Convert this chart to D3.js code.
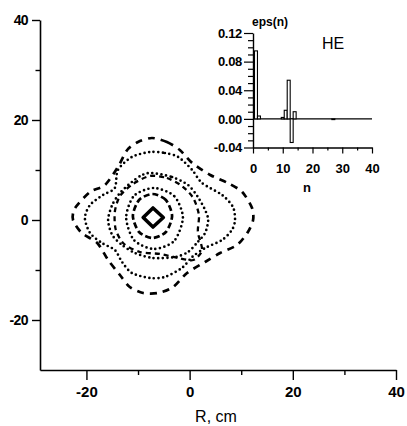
<!DOCTYPE html>
<html>
<head>
<meta charset="utf-8">
<script src="https://cdn.jsdelivr.net/npm/d3@7"></script>
<style>
  html, body { margin: 0; padding: 0; background: #fff; }
  svg { display: block; }
  text { font-family: "Liberation Sans", Arial, sans-serif; fill: #000; }
</style>
</head>
<body>
<svg id="chart" width="407" height="426"></svg>
<script>
// ---- Main plot: flux surface cross-sections (R, Z in cm) ----
const xTicksMain = [-20, 0, 20, 40];
const yTicksMain = [-20, 0, 20, 40];
const xMinorMain = [-10, 10, 30];
const yMinorMain = [-10, 10, 30];

// Outermost surface (dashed)
const surfaceA = [
  [-7.3, 16.4], [-4.4, 15.6], [-1.9, 14.0], [0.5, 11.4], [4.0, 9.0], [7.4, 7.4],
  [10.2, 5.6], [12.1, 2.4], [12.3, 0.0], [11.3, -2.4], [9.2, -5.0], [5.9, -6.6],
  [3.0, -8.4], [-0.5, -10.6], [-3.2, -13.4], [-6.1, -14.6], [-9.0, -14.6],
  [-11.6, -13.4], [-13.5, -11.0], [-15.8, -8.0], [-17.9, -4.6], [-20.9, -2.6],
  [-22.6, 0.0], [-22.2, 2.4], [-19.3, 5.6], [-16.4, 7.0], [-13.9, 10.6],
  [-12.1, 14.0], [-10.0, 15.6]
];
// Second surface (dotted)
const surfaceB = [
  [-7.7, 13.6], [-4.8, 13.4], [-2.2, 12.6], [0.5, 10.0], [2.4, 7.4], [6.3, 5.0],
  [8.4, 2.6], [8.8, 0.0], [8.2, -2.0], [6.3, -4.0], [3.0, -5.6], [0.5, -7.4],
  [-1.5, -9.6], [-4.8, -11.4], [-7.7, -11.6], [-11.2, -10.6], [-13.1, -8.4],
  [-14.5, -6.0], [-17.0, -4.6], [-19.3, -2.6], [-20.3, 0.4], [-19.3, 3.0],
  [-16.8, 5.0], [-14.5, 6.4], [-13.9, 10.0], [-11.2, 12.6]
];
// Middle surface (dotted)
const surfaceC = [
  [-7.3, 9.4], [-3.4, 8.6], [-0.3, 7.0], [1.6, 4.6], [3.0, 2.0], [3.6, 0.0],
  [3.0, -2.6], [1.4, -4.6], [-0.3, -6.4], [-2.8, -7.4], [-7.1, -7.6],
  [-10.6, -6.6], [-13.1, -5.0], [-15.0, -3.0], [-15.8, 0.0], [-15.0, 3.0],
  [-13.5, 5.4], [-11.2, 7.6], [-9.2, 9.0]
];
// Middle surface (dashed)
const surfaceD = [
  [-7.7, 8.8], [-4.4, 8.4], [-1.5, 6.8], [0.7, 4.4], [1.8, 1.0], [1.6, -2.4],
  [2.4, -6.0], [0.7, -8.0], [-2.2, -7.6], [-5.7, -6.8], [-9.6, -6.4],
  [-12.7, -4.8], [-14.3, -2.0], [-14.5, 1.6], [-13.5, 4.8], [-11.0, 7.2]
];
// Inner surfaces
const surfaceE = [
  [-1.3, 0.5], [-3.0, 4.8], [-7.0, 6.4], [-10.8, 4.8], [-12.3, 0.5],
  [-10.8, -4.0], [-7.0, -5.8], [-3.0, -4.2]
];
const surfaceF = [
  [-3.4, 0.8], [-4.6, 4.0], [-7.2, 5.2], [-9.8, 4.0], [-11.0, 0.8],
  [-9.8, -2.4], [-7.2, -3.6], [-4.6, -2.4]
];
const surfaceCore = [[-9.0, 0.5], [-7.1, 2.4], [-5.1, 0.5], [-7.1, -1.4]];

// ---- Inset: harmonic spectrum eps(n) ----
const harmonicN = [1, 2, 10, 11, 12, 13, 14, 27];
const epsValues = [0.095, 0.004, 0.002, 0.012, 0.054, -0.033, 0.010, -0.001];
const insetYTicks = [-0.04, 0.00, 0.04, 0.08, 0.12];
const insetXTicks = [0, 10, 20, 30, 40];

const svg = d3.select("#chart");

// number formats with a plain hyphen as the minus sign
const fmtInt = d => d3.format("d")(d).replace("\u2212", "-");
const fmt2 = d => d3.format(".2f")(d).replace("\u2212", "-");

// Scales
const x = d3.scaleLinear().domain([-29, 40]).range([40, 396]);
const y = d3.scaleLinear().domain([-30, 40]).range([370, 20]);

// Main axes
const gx = svg.append("g").attr("transform", `translate(0,${y(-30)})`)
  .call(d3.axisBottom(x).tickValues(xTicksMain).tickSize(10).tickSizeOuter(0)
    .tickPadding(6).tickFormat(fmtInt));
svg.append("g").attr("transform", `translate(0,${y(-30)})`)
  .call(d3.axisBottom(x).tickValues(xMinorMain).tickSize(5).tickSizeOuter(0).tickFormat(""))
  .select(".domain").remove();
const gy = svg.append("g").attr("transform", `translate(${x(-29)},0)`)
  .call(d3.axisLeft(y).tickValues(yTicksMain).tickSize(8).tickSizeOuter(0)
    .tickPadding(4).tickFormat(fmtInt));
svg.append("g").attr("transform", `translate(${x(-29)},0)`)
  .call(d3.axisLeft(y).tickValues(yMinorMain).tickSize(4.5).tickSizeOuter(0).tickFormat(""))
  .select(".domain").remove();

svg.selectAll(".domain").attr("stroke", "#000").attr("stroke-width", 1.6);
svg.selectAll(".tick line").attr("stroke", "#000").attr("stroke-width", 1.4);
gx.selectAll(".tick text").attr("font-size", 15).attr("font-weight", "bold")
  .attr("font-family", "Liberation Sans, Arial, sans-serif");
gy.selectAll(".tick text").attr("font-size", 14).attr("font-weight", "bold")
  .attr("font-family", "Liberation Sans, Arial, sans-serif").attr("letter-spacing", -0.6);

svg.append("text").attr("x", 216).attr("y", 422).attr("text-anchor", "middle")
  .attr("font-size", 16).text("R, cm");

// Contours
const line = d3.line().x(d => x(d[0])).y(d => y(d[1])).curve(d3.curveCardinalClosed.tension(0.2));
const dotted = { width: 2.7, dash: "0 4.6", cap: "round" };
const contours = [
  { data: surfaceA, width: 2.7, dash: "7 6", cap: "butt" },
  { data: surfaceB, ...dotted },
  { data: surfaceC, ...dotted },
  { data: surfaceD, width: 2.3, dash: "5 4", cap: "butt" },
  { data: surfaceE, ...dotted },
  { data: surfaceF, width: 2.7, dash: "6 3", cap: "butt" }
];
svg.append("g").selectAll("path").data(contours).join("path")
  .attr("d", d => line(d.data))
  .attr("fill", "none").attr("stroke", "#000")
  .attr("stroke-width", d => d.width)
  .attr("stroke-dasharray", d => d.dash)
  .attr("stroke-linecap", d => d.cap);
svg.append("path")
  .attr("d", d3.line().x(d => x(d[0])).y(d => y(d[1])).curve(d3.curveLinearClosed)(surfaceCore))
  .attr("fill", "none").attr("stroke", "#000").attr("stroke-width", 3.6)
  .attr("stroke-linejoin", "round");

// ---- Inset ----
const xi = d3.scaleLinear().domain([0, 40]).range([253, 372]);
const yi = d3.scaleLinear().domain([-0.04, 0.12]).range([147.5, 33]);
const inset = svg.append("g");

const giy = inset.append("g").attr("transform", `translate(${xi(0)},0)`)
  .call(d3.axisLeft(yi).tickValues(insetYTicks).tickSize(9).tickSizeOuter(0)
    .tickPadding(2).tickFormat(fmt2));
inset.append("g").attr("transform", `translate(${xi(0)},0)`)
  .call(d3.axisLeft(yi).tickValues(d3.range(-4, 13).map(v => v / 100)
    .filter(v => Math.abs(Math.round(v * 100)) % 4 !== 0)).tickSize(5).tickSizeOuter(0).tickFormat(""))
  .select(".domain").remove();
const gix = inset.append("g").attr("transform", `translate(0,${yi(-0.04)})`)
  .call(d3.axisBottom(xi).tickValues(insetXTicks).tickSize(6).tickSizeOuter(0)
    .tickPadding(10).tickFormat(fmtInt));
inset.append("g").attr("transform", `translate(0,${yi(-0.04)})`)
  .call(d3.axisBottom(xi).tickValues([5, 15, 25, 35]).tickSize(3).tickSizeOuter(0).tickFormat(""))
  .select(".domain").remove();

inset.selectAll(".domain").attr("stroke", "#000").attr("stroke-width", 1.4);
inset.selectAll(".tick line").attr("stroke", "#000").attr("stroke-width", 1.2);
giy.selectAll(".tick text").attr("font-size", 13).attr("font-weight", "bold")
  .attr("font-family", "Liberation Sans, Arial, sans-serif").attr("letter-spacing", -0.3);
gix.selectAll(".tick text").attr("font-size", 13).attr("font-weight", "bold")
  .attr("font-family", "Liberation Sans, Arial, sans-serif");

// zero line
inset.append("line").attr("x1", xi(0)).attr("x2", xi(40))
  .attr("y1", yi(0)).attr("y2", yi(0)).attr("stroke", "#000").attr("stroke-width", 1.4);

// bars
inset.selectAll("rect.bar").data(harmonicN.map((n, i) => ({ n, v: epsValues[i] })))
  .join("rect").attr("class", "bar")
  .attr("x", d => xi(d.n - 0.5))
  .attr("width", d => xi(d.n + 0.5) - xi(d.n - 0.5))
  .attr("y", d => yi(Math.max(0, d.v)))
  .attr("height", d => Math.abs(yi(d.v) - yi(0)))
  .attr("fill", "#fff").attr("stroke", "#000").attr("stroke-width", 1.1);

inset.append("text").attr("x", 252).attr("y", 26).attr("font-size", 12)
  .attr("font-weight", "bold").text("eps(n)");
inset.append("text").attr("x", 322).attr("y", 49).attr("font-size", 16).text("HE");
inset.append("text").attr("x", 307).attr("y", 192).attr("text-anchor", "middle")
  .attr("font-size", 13).attr("font-weight", "bold").text("n");
</script>
</body>
</html>
